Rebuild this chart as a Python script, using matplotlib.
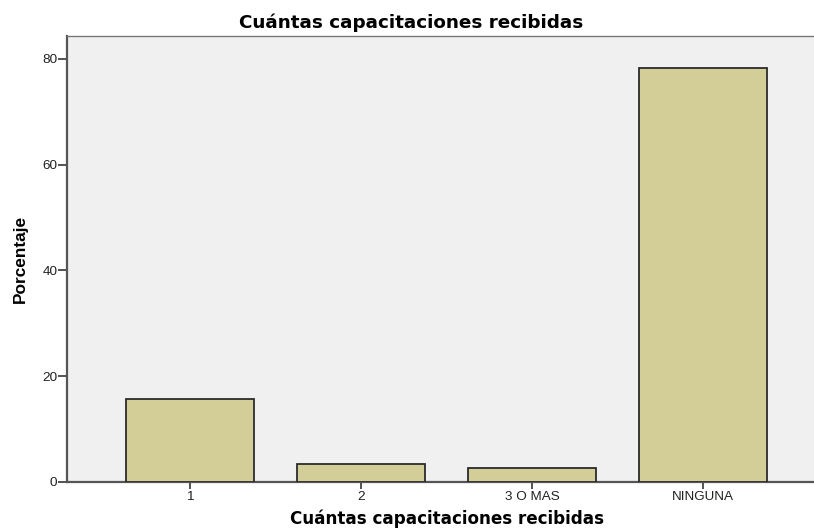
import matplotlib.pyplot as plt

categorias = ["1", "2", "3 O MAS", "NINGUNA"]
porcentajes = [15.6, 3.4, 2.7, 78.3]
y_ticks = [0, 20, 40, 60, 80]

plt.rcParams['font.family'] = ['Liberation Sans', 'DejaVu Sans']

fig = plt.figure(figsize=(8.14, 5.29), dpi=100)
ax = fig.add_axes([67 / 814, 47 / 529, 759 / 814, 446 / 529])
ax.set_facecolor('#f0f0f0')

x = list(range(len(categorias)))
ax.bar(x, porcentajes, width=0.75, color='#d3ce97', edgecolor='#2b2b2b', linewidth=1.3, zorder=3)

ax.set_xlim(-0.72, 3.72)
ax.set_ylim(0, 84.3)
ax.set_xticks(x)
ax.set_xticklabels(categorias, fontsize=9.7, color='#222222')
ax.set_yticks(y_ticks)
ax.set_yticklabels([str(v) for v in y_ticks], fontsize=9.7, color='#222222')
ax.tick_params(axis='x', direction='out', length=5, width=1.3, color='#444444', pad=1.5)
ax.tick_params(axis='y', direction='out', length=6.5, width=1.3, color='#444444', pad=0.5)

for lado in ['left', 'bottom', 'top', 'right']:
    ax.spines[lado].set_color('#555555')
    ax.spines[lado].set_linewidth(1.6)
ax.spines['top'].set_linewidth(1.0)
ax.spines['top'].set_color('#777777')

ax.set_title("Cuántas capacitaciones recibidas", fontsize=13.2, fontweight='bold',
             family=['DejaVu Sans'], x=(411 - 67) / 759, pad=6)
ax.set_xlabel("Cuántas capacitaciones recibidas", fontsize=12.1, fontweight='bold',
              family=['DejaVu Sans'], labelpad=5)
ax.set_ylabel("Porcentaje", fontsize=12.4, fontweight='bold', labelpad=10)

fig.savefig("out.png", dpi=100)
